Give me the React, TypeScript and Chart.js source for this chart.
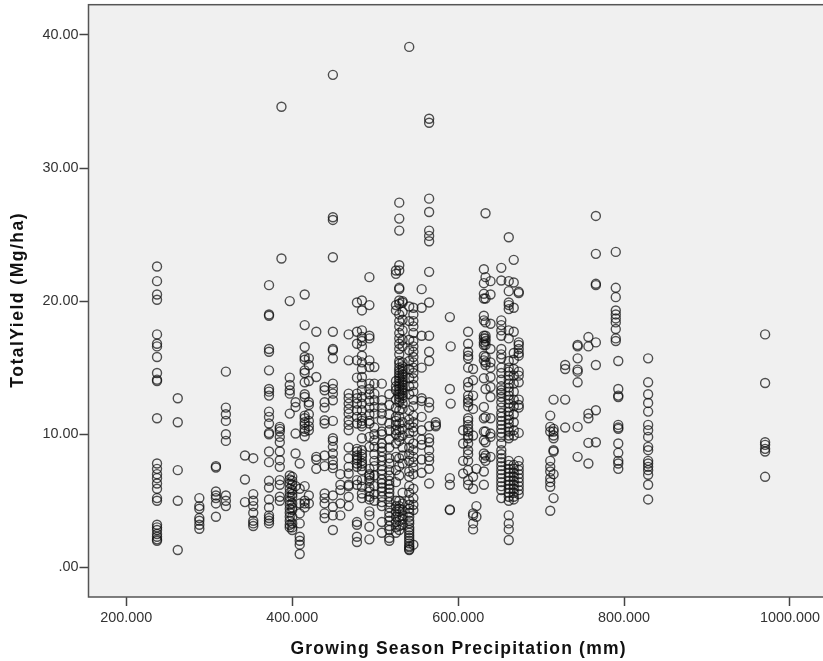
import React, { useEffect, useRef } from "react";
import { Chart, registerables } from "chart.js";

Chart.register(...registerables);

const xTicks = [200, 400, 600, 800, 1000];
const yTicks = [0, 10, 20, 30, 40];

const y237 = [22.6,21.5,20.5,20.1,17.5,16.8,16.6,15.8,14.6,14.1,14.0,11.2,7.8,7.4,7.0,6.7,6.3,5.9,5.2,5.0,3.2,3.0,2.8,2.5,2.3,2.1,2.0];
const y262 = [12.7,10.9,7.3,5.0,1.3];
const y288 = [5.2,4.6,4.4,3.7,3.5,3.2,2.9];
const y308 = [7.6,7.5,5.7,5.4,5.2,4.8,3.8];
const y320 = [14.7,12.0,11.5,11.0,10.0,9.5,5.4,5.0,4.6];
const y343 = [8.4,6.6,4.9];
const y353 = [8.2,5.5,5.0,4.6,4.1,3.5,3.3,3.1];
const y372 = [21.2,19.0,18.9,16.4,16.2,14.8,13.4,13.2,12.9,11.7,11.3,10.8,10.1,10.0,8.7,7.9,6.5,6.0,5.1,4.5,3.9,3.7,3.5,3.3];
const y385 = [10.55,10.4,10.2,9.8,9.4,8.7,8.05,7.55,6.55,6.2,5.3,5.0];
const y387 = [34.6,23.2];
const y397 = [20.0,14.25,13.7,13.3,13.05,11.55,6.9,6.6,6.3,5.9,5.6,5.3,5.0,4.7,4.4,4.1,3.8,3.5,3.2,3.0];
const y400 = [6.8,6.5,6.2,5.8,5.5,5.3,4.8,4.5,4.3,3.8,3.3,3.0,2.8];
const y404 = [12.4,12.05,10.05,8.55,6.1];
const y409 = [7.8,5.9,4.8,4.05,3.3,2.3,2.0,1.7,1.0];
const y415 = [20.5,18.2,16.55,15.8,15.6,14.8,14.6,13.9,13.0,12.8,11.4,11.2,10.9,10.7,10.4,10.2,9.85,6.1,5.0,4.8,4.5];
const y420 = [15.7,15.2,14.0,12.4,12.2,11.5,11.0,10.6,10.3,5.4,4.8];
const y429 = [17.7,14.3,7.4,8.3,8.1];
const y439 = [13.55,13.3,12.4,12.0,11.05,10.8,8.4,7.6,5.55,5.2,4.8,4.05,3.7];
const y449 = [37.0,26.3,26.1,23.3,17.7,16.4,16.3,15.7,13.8,13.4,13.05,12.55,11.0,9.7,9.5,9.05,8.55,8.05,7.7,7.45,5.4,4.55,3.9,2.8];
const y458 = [6.2,5.8,4.8,3.9,7.0];
const y468 = [17.5,15.55,13.05,12.7,12.3,11.9,11.55,11.05,10.7,10.3,9.0,8.2,7.55,7.05,6.2,5.3,4.6,6.1];
const y478 = [19.9,17.7,16.8,15.55,14.25,13.05,12.7,12.3,11.8,11.3,10.8,8.9,8.4,8.05,7.55,6.55,6.2,3.4,3.2,2.3,1.9,8.7,8.2,7.8];
const y484 = [20.05,19.3,17.8,17.3,17.0,16.6,15.9,15.4,14.9,14.3,13.8,13.3,12.8,12.3,11.8,11.3,10.8,9.7,8.8,8.3,7.8,7.3,6.55,6.05,5.55,5.2,8.5,8.0,7.6,11.0,10.6];
const y493 = [21.8,19.7,17.4,17.2,15.55,15.05,13.8,13.4,13.0,12.5,12.0,11.5,11.0,10.8,9.8,9.05,6.9,6.7,5.3,5.1,3.9,3.05,7.4,7.0,6.5,6.0,5.7,4.2,2.1];
const y499 = [15.05,13.8,13.05,12.55,12.05,11.55,9.55,9.05,8.5,8.0,7.6,6.9,6.1,5.5,5.0,10.5,10.0];
const y508 = [13.8,12.55,11.55,11.05,9.3,9.0,8.7,8.3,8.0,7.6,7.3,7.0,6.6,6.3,6.0,5.7,5.3,4.9,4.6,3.4,2.6,12.0,10.2,10.0];
const y517 = [13.0,12.2,11.5,10.8,10.3,9.6,9.0,8.2,7.8,7.3,6.9,6.5,6.2,5.9,5.6,5.3,4.9,4.5,4.1,3.5,2.8,2.2,2.0,3.1,3.8];
const y525 = [22.3,22.05,19.7,19.3,14.0,13.3,12.6,12.0,11.3,10.7,10.0,9.3,8.3,7.3,6.4,5.0,4.6,4.2,3.8,3.4,3.0,2.6,13.6,11.0,10.3];
const y529 = [27.4,26.2,25.3,22.7,22.3,21.0,20.9,20.05,19.8,19.0,18.5,18.1,17.6,17.2,16.8,16.4,16.0,15.5,15.3,15.0,14.8,14.6,14.4,14.2,14.0,13.8,13.6,13.4,13.2,13.0,12.8,12.6,12.4,11.8,11.3,10.8,10.3,9.8,9.5,8.2,7.6,6.9,5.0,4.6,4.4,4.2,3.8,3.5,3.1,2.8];
const y533 = [20.0,19.9,19.2,18.6,17.8,17.1,16.6,15.4,15.1,14.9,14.7,14.5,14.3,14.1,13.9,13.7,13.5,13.3,13.1,12.9,12.7,12.3,11.9,10.9,10.4,9.9,9.0,8.4,7.8,5.6,4.8,4.3,3.9,3.6,3.2];
const y541 = [39.1,19.6,18.5,17.1,16.3,15.5,14.9,14.2,13.6,13.0,11.8,11.1,10.7,10.1,9.6,9.0,8.5,8.0,7.2,6.8,6.1,5.6,5.05,4.7,4.4,4.1,3.8,3.5,3.3,3.0,2.8,2.6,2.4,2.2,2.0,1.8,1.6,1.5,1.35,1.3];
const y546 = [19.5,19.0,18.5,18.1,17.6,17.0,16.6,16.2,15.8,15.4,15.0,14.6,14.2,13.7,13.2,12.6,12.1,11.4,10.9,10.5,10.2,9.3,8.8,8.3,7.9,7.5,7.0,5.9,5.2,4.7,4.3,1.7];
const y556 = [20.9,19.5,17.4,15.0,12.7,12.5,11.3,10.3,9.6,9.2,8.1,7.1];
const y565 = [33.7,33.4,27.7,26.7,25.3,24.9,24.5,22.2,19.9,17.4,16.2,15.5,12.4,12.0,10.6,9.7,9.4,8.8,8.3,7.4,6.3,8.0];
const y573 = [10.9,10.7,10.6];
const y590 = [18.8,13.4,6.7,6.2,4.35,4.3];
const y591 = [16.6,12.3];
const y606 = [10.3,9.3,8.0,7.05];
const y612 = [17.7,16.8,16.2,15.9,15.7,15.0,13.9,13.55,12.9,12.6,12.4,12.1,11.2,11.0,10.7,10.4,10.2,9.9,9.7,9.3,8.8,8.5,8.0,7.3,6.55,6.2];
const y618 = [14.9,14.05,12.9,11.9,9.9,6.8,5.9,4.05,3.3,2.85,3.9];
const y622 = [7.4,4.6,3.8];
const y631 = [22.4,21.35,20.55,20.2,18.9,18.55,17.4,17.2,16.9,16.7,15.9,15.55,14.2,12.05,11.2,10.2,9.55,8.55,8.2,7.2,6.2];
const y633 = [26.6,21.8,20.2,18.4,17.4,17.2,17.0,16.7,15.8,15.4,15.2,13.4,11.3,10.2,9.4,8.4,8.0];
const y639 = [21.5,20.5,18.3,16.4,15.4,15.0,14.3,13.55,12.8,11.2,10.05,9.8,8.3];
const y652 = [22.5,21.55,18.55,18.2,17.8,17.4,16.4,16.0,15.7,15.0,14.6,14.1,13.6,13.3,13.1,12.8,12.4,12.0,11.6,11.3,11.0,10.7,10.4,10.1,9.8,8.8,8.5,8.2,7.9,7.6,7.3,7.0,6.7,6.4,6.1,5.8,5.2,9.3];
const y661 = [24.8,21.5,20.75,19.9,19.7,19.4,17.8,17.2,15.5,15.0,14.7,14.4,14.1,13.8,13.5,13.2,12.9,12.6,12.3,12.0,11.7,11.4,11.1,10.8,10.5,10.2,9.9,9.7,8.0,7.7,7.4,7.1,6.8,6.5,6.2,5.9,5.6,5.3,5.0,3.9,3.3,2.85,2.05];
const y667 = [23.1,21.4,19.5,17.7,16.1,15.6,14.9,14.4,13.8,13.2,12.6,12.1,11.5,10.9,10.3,9.9,7.7,7.4,7.1,6.8,6.5,6.2,5.9,5.6,5.3,5.1];
const y673 = [20.7,20.6,16.9,16.7,16.4,16.1,15.9,14.7,14.4,13.9,12.6,12.2,12.0,10.1,8.0,7.6,7.3,7.0,6.7,6.4,6.1,5.8,5.5];
const y711 = [11.4,10.55,10.2,8.0,7.55,7.2,6.7,6.4,6.05,4.25];
const y715 = [12.6,10.4,10.2,9.9,9.7,8.8,8.7,7.0,5.2];
const y729 = [15.2,14.9,12.6,10.5];
const y744 = [16.7,16.6,15.7,14.85,14.7,13.9,10.55,8.3];
const y757 = [17.3,16.6,11.55,11.2,9.35,7.8];
const y766 = [26.4,23.55,21.3,21.2,16.9,15.2,11.8,9.4];
const y790 = [23.7,21.0,20.3,19.3,19.0,18.7,18.4,17.9,17.2,17.0];
const y793 = [15.5,13.4,12.9,12.8,10.7,10.5,10.4,9.3,8.6,8.0,7.8,7.4];
const y829 = [15.7,13.9,13.0,12.35,11.7,10.7,10.3,9.8,9.05,8.8,8.0,7.8,7.55,7.3,6.95,6.2,5.1];
const y970 = [17.5,13.85,9.4,9.2,8.9,8.7,6.8];

const precipitation = [237,262,288,308,320,343,353,372,385,387,397,400,404,409,415,420,429,439,449,458,468,478,484,493,499,508,517,525,529,533,541,546,556,565,573,590,591,606,612,618,622,631,633,639,652,661,667,673,711,715,729,744,757,766,790,793,829,970];
const yields = [y237,y262,y288,y308,y320,y343,y353,y372,y385,y387,y397,y400,y404,y409,y415,y420,y429,y439,y449,y458,y468,y478,y484,y493,y499,y508,y517,y525,y529,y533,y541,y546,y556,y565,y573,y590,y591,y606,y612,y618,y622,y631,y633,y639,y652,y661,y667,y673,y711,y715,y729,y744,y757,y766,y790,y793,y829,y970];

const FONT = '"Liberation Sans", Arial, sans-serif';

const panel = {
  id: "panel",
  afterLayout(chart: any) {
    for (const id of ["x", "y"]) {
      const s = chart.scales[id];
      if (s._spaced) continue;
      const orig = s.drawTitle;
      s.drawTitle = function () {
        const ctx = chart.ctx;
        ctx.save();
        ctx.letterSpacing = id === "x" ? "1.2px" : "1.5px";
        if (id === "x") ctx.translate(8, 0);
        else ctx.translate(0, -3.5);
        orig.call(s);
        ctx.restore();
      };
      s._spaced = true;
    }
  },
  beforeDatasetsDraw(chart: any) {
    const { ctx, chartArea: a, width } = chart;
    const top = 4.7;
    ctx.save();
    ctx.fillStyle = "#f0f0f0";
    ctx.fillRect(a.left, top, width - a.left, a.bottom - top);
    ctx.strokeStyle = "#555555";
    ctx.lineWidth = 1.5;
    ctx.strokeRect(a.left, top, width - a.left + 4, a.bottom - top);
    ctx.restore();
  },
};

export default function App() {
  const ref = useRef<HTMLCanvasElement>(null);
  useEffect(() => {
    const data = precipitation.flatMap((x, i) => yields[i].map((y) => ({ x, y })));
    const chart = new Chart(ref.current!, {
      type: "scatter",
      data: {
        datasets: [
          {
            data,
            pointRadius: 4.5,
            pointBorderWidth: 1.4,
            pointBackgroundColor: "rgba(0,0,0,0)",
            pointBorderColor: "rgba(15,15,15,0.72)",
          },
        ],
      },
      plugins: [panel],
      options: {
        responsive: false,
        animation: false,
        layout: { autoPadding: false, padding: 0 },
        plugins: { legend: { display: false }, tooltip: { enabled: false } },
        scales: {
          x: {
            type: "linear",
            min: 154.4,
            max: 1027.4,
            afterFit: (s: any) => { s.height = 64; },
            afterBuildTicks: (s: any) => { s.ticks = xTicks.map((value) => ({ value })); },
            grid: { drawOnChartArea: false, tickLength: 9, tickColor: "#444444", tickWidth: 1.5 },
            border: { display: false },
            ticks: {
              autoSkip: false,
              maxRotation: 0,
              color: "#333333",
              font: { family: FONT, size: 14.4 },
              padding: 3,
              callback: (v: any) => Number(v).toFixed(3),
            },
            title: {
              display: true,
              text: "Growing Season Precipitation (mm)",
              color: "#111111",
              font: { family: FONT, size: 17.5, weight: "bold" },
              padding: { top: 8, bottom: 1 },
            },
          },
          y: {
            type: "linear",
            min: -2.23,
            max: 41.9,
            afterFit: (s: any) => { s.width = 88.5; },
            afterBuildTicks: (s: any) => { s.ticks = yTicks.map((value) => ({ value })); },
            grid: { drawOnChartArea: false, tickLength: 9, tickColor: "#444444", tickWidth: 1.5 },
            border: { display: false },
            ticks: {
              color: "#333333",
              font: { family: FONT, size: 14.4 },
              padding: 1,
              callback: (v: any) => (v === 0 ? ".00" : Number(v).toFixed(2)),
            },
            title: {
              display: true,
              text: "TotalYield (Mg/ha)",
              color: "#111111",
              font: { family: FONT, size: 17.5, weight: "bold" },
              padding: { top: 8, bottom: 0 },
            },
          },
        },
      },
    } as any);
    return () => chart.destroy();
  }, []);
  return (
    <div style={{ position: "absolute", left: 0, top: 0 }}>
      <canvas ref={ref} width={823} height={661} style={{ display: "block" }} />
    </div>
  );
}
